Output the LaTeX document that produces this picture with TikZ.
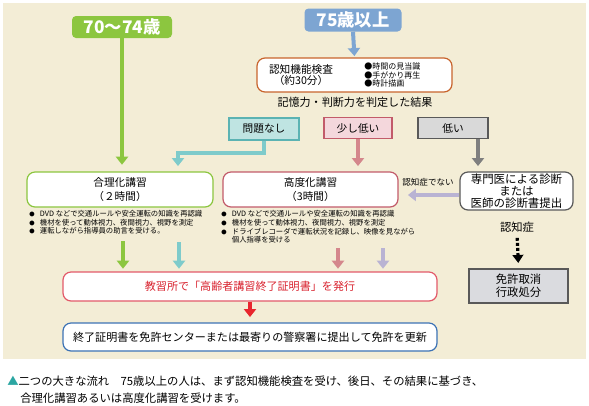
\documentclass[tikz,border=0pt]{standalone}
\usepackage{fontspec}
\setmainfont{Noto Sans CJK JP}
\usepackage{tikz}
\usetikzlibrary{arrows.meta, positioning, calc}
\usepackage{xcolor}
\definecolor{panelbg}{HTML}{F3EDD6}
\definecolor{agegreen}{HTML}{8CC63F}
\definecolor{ageblue}{HTML}{7DA5D2}
\definecolor{testline}{HTML}{C8642D}
\definecolor{okfill}{HTML}{BFE4E2}
\definecolor{okline}{HTML}{5BB3B3}
\definecolor{okarrow}{HTML}{7ECBCB}
\definecolor{slightfill}{HTML}{F4D7DC}
\definecolor{slightline}{HTML}{C25B6A}
\definecolor{slightarrow}{HTML}{D4878C}
\definecolor{lowfill}{HTML}{D9D9D9}
\definecolor{lowline}{HTML}{595959}
\definecolor{lowarrow}{HTML}{7F7F7F}
\definecolor{lavarrow}{HTML}{B9B3D3}
\definecolor{issueline}{HTML}{E35A6A}
\definecolor{issuetext}{HTML}{D9222E}
\definecolor{redarrow}{HTML}{E8262E}
\definecolor{renewline}{HTML}{3D73B5}
\definecolor{revokefill}{HTML}{DADBDF}
\definecolor{tealmark}{HTML}{2BA6A2}
\tikzstyle{agebox} = [rectangle, rounded corners=3pt, text=white, inner sep=0pt, font=\fontsize{13}{13}\selectfont\bfseries]
\tikzstyle{course} = [rectangle, rounded corners=6pt, fill=white, line width=0.9pt, align=center, inner sep=0pt, font=\fontsize{8}{11}\selectfont]
\tikzstyle{result} = [rectangle, line width=1.1pt, inner sep=0pt, font=\fontsize{8}{8}\selectfont]
\tikzstyle{bigarrow} = [line width=3pt, -{Triangle[width=9pt,length=6pt]}]
\tikzstyle{note} = [anchor=north west, inner sep=0pt, font=\fontsize{5.5}{6.4}\selectfont]
\newcommand{\notedot}{{\fontsize{4}{4}\selectfont ●}}

\begin{document}
\begin{tikzpicture}[x=0.75pt, y=-0.75pt]
    \useasboundingbox (0,0) rectangle (589,405);
    \fill [panelbg] (3,3) rectangle (586,359);

    % ages and test
    \node (young) [agebox, fill=agegreen, minimum width=75pt, minimum height=16.5pt] at (122,27) {70～74歳};
    \node (old) [agebox, fill=ageblue, minimum width=72.75pt, minimum height=17.25pt] at (353,20) {75歳以上};
    \node (test) [course, draw=testline, minimum width=146.25pt, minimum height=25.5pt] at (354.5,75) {};
    \node (testname) [align=center, inner sep=0pt, font=\fontsize{8}{8.6}\selectfont] at (301,75) {認知機能検査\\（約30分）};
    \node (testitems) [anchor=west, align=left, inner sep=0pt, font=\fontsize{6}{6.4}\selectfont] at (364,75) {●時間の見当識\\●手がかり再生\\●時計描画};
    \node (judge) [inner sep=0pt, font=\fontsize{8.3}{8.3}\selectfont] at (355,102) {記憶力・判断力を判定した結果};
    \draw [bigarrow, ageblue, shorten >=1pt] (old.south) -- (test.north);

    % results
    \node (ok) [result, fill=okfill, draw=okline, minimum width=52.5pt, minimum height=16.5pt] at (264,129) {問題なし};
    \node (slight) [result, fill=slightfill, draw=slightline, minimum width=51pt, minimum height=15.75pt] at (358,128) {少し低い};
    \node (low) [result, fill=lowfill, draw=lowline, minimum width=52.5pt, minimum height=15.75pt] at (453,128) {低い};

    % courses
    \node (rational) [course, draw=agegreen, minimum width=139.5pt, minimum height=26.25pt] at (120,189.5) {合理化講習\\（２時間）};
    \node (advanced) [course, draw=slightline, minimum width=131.25pt, minimum height=26.25pt] at (310.5,189.5) {高度化講習\\（3時間）};
    \node (doctor) [course, draw=lowline, minimum width=84.75pt, minimum height=28.5pt, font=\fontsize{8.6}{8.9}\selectfont] at (516.5,191) {専門医による診断\\または\\医師の診断書提出};
    \node (ratnote) [note] at (29,210) {\begin{tabular}{@{}l@{\hspace{4pt}}l@{}}
        \notedot & DVD などで交通ルールや安全運転の知識を再認識\\
        \notedot & 機材を使って動体視力、夜間視力、視野を測定\\
        \notedot & 運転しながら指導員の助言を受ける。
    \end{tabular}};
    \node (advnote) [note] at (221,210) {\begin{tabular}{@{}l@{\hspace{4pt}}l@{}}
        \notedot & DVD などで交通ルールや安全運転の知識を再認識\\
        \notedot & 機材を使って動体視力、夜間視力、視野を測定\\
        \notedot & ドライブレコーダで運転状況を記録し、映像を見ながら\\
             & 個人指導を受ける
    \end{tabular}};

    \coordinate (okbend) at ($(rational.north)+(58,0)$);
    \coordinate (lowfoot) at ($(low.south)+(25,0)$);
    \draw [bigarrow, agegreen, shorten >=5pt] (young.south) -- (young.south |- rational.north);
    \draw [bigarrow, okarrow, shorten >=4pt] (ok.south) -- ++(0,12) -| (okbend);
    \draw [bigarrow, slightarrow, shorten >=4pt] (slight.south) -- (slight.south |- advanced.north);
    \draw [bigarrow, lowarrow, shorten >=4pt] (lowfoot) -- (lowfoot |- doctor.north);

    % not dementia
    \coordinate (docleft) at ($(doctor.west)+(0,4)$);
    \draw [bigarrow, lavarrow, shorten >=7pt] (docleft) -- (docleft -| advanced.east);
    \node (notdem) [inner sep=0pt, font=\fontsize{6.4}{6.4}\selectfont] at (428,182) {認知症でない};

    % dementia
    \node (dem) [inner sep=0pt, font=\fontsize{8.5}{8.5}\selectfont] at (517,227) {認知症};
    \node (revoke) [result, fill=revokefill, draw=lowline, align=center, minimum width=74.25pt, minimum height=25.5pt, font=\fontsize{8.5}{9.8}\selectfont] at (518.5,286) {免許取消\\行政処分};
    \draw [line width=2.4pt, dash pattern=on 2.2pt off 1.6pt, -{Triangle[width=8pt,length=6pt]}, shorten <=4pt, shorten >=4pt] (dem.south) -- (revoke.north);

    % certificate
    \node (issue) [course, draw=issueline, text=issuetext, minimum width=280.5pt, minimum height=21.75pt, font=\fontsize{8.3}{8.3}\selectfont] at (250,286.5) {教習所で「高齢者講習終了証明書」を発行};
    \node (renew) [course, draw=renewline, minimum width=280.5pt, minimum height=21pt, font=\fontsize{8.3}{8.3}\selectfont] at (250,337) {終了証明書を免許センターまたは最寄りの警察署に提出して免許を更新};
    \coordinate (g2) at (123,241);
    \coordinate (t2) at (179,242);
    \coordinate (s2) at (338,248);
    \coordinate (l2) at (383,248);
    \foreach \c/\col in {g2/agegreen, t2/okarrow, s2/slightarrow, l2/lavarrow} {
        \draw [bigarrow, \col, shorten >=2pt] (\c) -- (\c |- issue.north);
    }
    \draw [bigarrow, redarrow, shorten >=4pt] (issue.south) -- (renew.north);

    % caption
    \node (cap1) [anchor=west, inner sep=0pt, font=\fontsize{8.5}{8.5}\selectfont] at (7,381) {{\color{tealmark}▲}二つの大きな流れ　75歳以上の人は、まず認知機能検査を受け、後日、その結果に基づき、};
    \node (cap2) [anchor=west, inner sep=0pt, font=\fontsize{8.5}{8.5}\selectfont] at (20,398) {合理化講習あるいは高度化講習を受けます。};
\end{tikzpicture}
\end{document}
